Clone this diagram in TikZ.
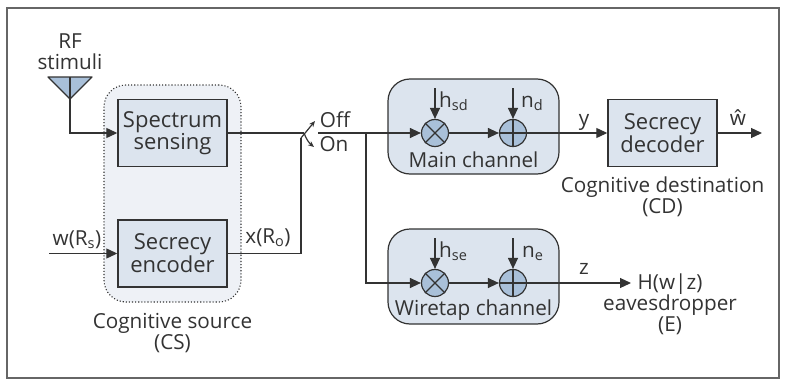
\documentclass[tikz,border=0pt]{standalone}
\usepackage{fontspec}
\setmainfont{Open Sans}
\usetikzlibrary{arrows.meta,calc}
\definecolor{boxfill}{HTML}{DCE4EE}
\definecolor{csfill}{HTML}{EEF1F6}
\definecolor{opfill}{HTML}{A9C0D9}
\definecolor{ink}{HTML}{333333}
\definecolor{framec}{HTML}{666666}
\tikzset{
  wire/.style={draw=ink,line width=1.2pt},
  arr/.style={wire,-{Triangle[length=11pt,width=10pt]}},
  block/.style={draw=ink,line width=1.4pt,fill=boxfill,minimum width=109pt,minimum height=67pt,inner sep=0pt,align=center,font=\blk,text=ink},
  chan/.style={draw=ink,line width=1.2pt,fill=boxfill,rounded corners=22pt,minimum width=171pt,minimum height=95pt,inner sep=0pt},
  op/.style={draw=ink,line width=1.2pt,fill=opfill,circle,minimum size=27pt,inner sep=0pt},
  txt/.style={inner sep=0pt,align=center,font=\lbl,text=ink},
}
\newcommand{\lbl}{\fontsize{20.7}{21}\selectfont}
\newcommand{\blk}{\fontsize{22}{21}\selectfont}
\begin{document}
\begin{tikzpicture}[x=1pt,y=-1pt]
\useasboundingbox (0,0) rectangle (785,380);
\node[draw=framec,line width=1.3pt,minimum width=772pt,minimum height=370pt,inner sep=0pt] (frame) at (393,193) {};
% cognitive source group
\node[draw=ink,dotted,line width=1.1pt,fill=csfill,rounded corners=22pt,minimum width=137pt,minimum height=217pt,inner sep=0pt] (cs) at (172.5,193.5) {};
\node[block] (sense) at (172.5,133) {Spectrum\\sensing};
\node[block] (enc) at (172.5,253.5) {Secrecy\\encoder};
% antenna
\coordinate (ta) at (48,77);
\coordinate (tb) at (92,77);
\coordinate (tc) at (70,99);
\coordinate (tm) at (70,77);
\filldraw[fill=opfill,draw=ink,line width=1.2pt,line join=round] (ta) -- (tb) -- (tc) -- cycle;
\draw[wire] (tm) -- (tc);
\node[txt] (rf) at (70,52) {RF\\stimuli};
\draw[arr] (tc) |- (sense.west);
% w input
\coordinate (win) at (49,253.5);
\draw[arr] (win) -- (enc.west);
\node[txt,anchor=base] (wrs) at (77,245) {w(R\textsubscript{s})};
% cs label
\node[txt] (cslab) at (172.5,333) {Cognitive source\\(CS)};
% switch
\coordinate (swa) at (301,138);
\coordinate (swb) at (315,121);
\coordinate (swc) at (304,133);
\coordinate (swd) at (314,147);
\coordinate (swe) at (318,133);
\draw[wire] (sense.east) -- (swc);
\draw[wire] (enc.east) -- (301,253.5) -- (swa);
\draw[wire,-{Stealth[length=6pt,width=5pt]}] (swa) -- (swb);
\draw[wire,-{Stealth[length=6pt,width=5pt]}] (swc) to[bend right=15] (swd);
\node[txt,anchor=base] (off) at (335,127) {Off};
\node[txt,anchor=base] (on) at (334,151) {On};
\node[txt,anchor=base] (xro) at (268,243) {x(R\textsubscript{o})};
% main channel
\node[chan] (main) at (473.5,126.5) {};
\node[op] (m1) at (435,133) {};
\node[op] (p1) at (513,133) {};
\draw[wire] (m1.45) -- (m1.225) (m1.135) -- (m1.315);
\draw[wire] (p1.north) -- (p1.south) (p1.west) -- (p1.east);
\node[txt] (mlab) at (473.5,160) {Main channel};
% wiretap channel
\node[chan] (wire) at (473.5,276.5) {};
\node[op] (m2) at (435,283) {};
\node[op] (p2) at (513,283) {};
\draw[wire] (m2.45) -- (m2.225) (m2.135) -- (m2.315);
\draw[wire] (p2.north) -- (p2.south) (p2.west) -- (p2.east);
\node[txt] (wlab) at (473.5,310) {Wiretap channel};
% decoder
\node[block] (dec) at (662.5,133) {Secrecy\\decoder};
\node[txt] (cdlab) at (662.5,197) {Cognitive destination\\(CD)};
% connections
\coordinate (br) at (366,133);
\draw[arr] (swe) -- (m1.west);
\draw[arr] (br) |- (m2.west);
\draw[arr] (m1) -- (p1.west);
\draw[arr] (m2) -- (p2.west);
\draw[arr] (p1.east) -- (dec.west);
\coordinate (eve) at (631,283);
\draw[arr] (p2.east) -- (eve);
\coordinate (wout) at (762,133);
\draw[arr] (dec.east) -- (wout);
\coordinate (hsd) at (435,88);
\coordinate (nd) at (513,88);
\coordinate (hse) at (435,238);
\coordinate (ne) at (513,238);
\draw[arr] (hsd) -- (m1.north);
\draw[arr] (nd) -- (p1.north);
\draw[arr] (hse) -- (m2.north);
\draw[arr] (ne) -- (p2.north);
\node[txt,anchor=base west] (lhsd) at (439,107) {h\textsubscript{sd}};
\node[txt,anchor=base west] (lnd) at (521,107) {n\textsubscript{d}};
\node[txt,anchor=base west] (lhse) at (439,257) {h\textsubscript{se}};
\node[txt,anchor=base west] (lne) at (522,257) {n\textsubscript{e}};
\node[txt,anchor=base] (ly) at (584,125) {y};
\node[txt,anchor=base] (lz) at (584,274) {z};
\node[txt,anchor=base] (lw) at (738,125) {ŵ};
\node[txt] (elab) at (670,304) {H(w|z)\\eavesdropper\\(E)};
\end{tikzpicture}
\end{document}
